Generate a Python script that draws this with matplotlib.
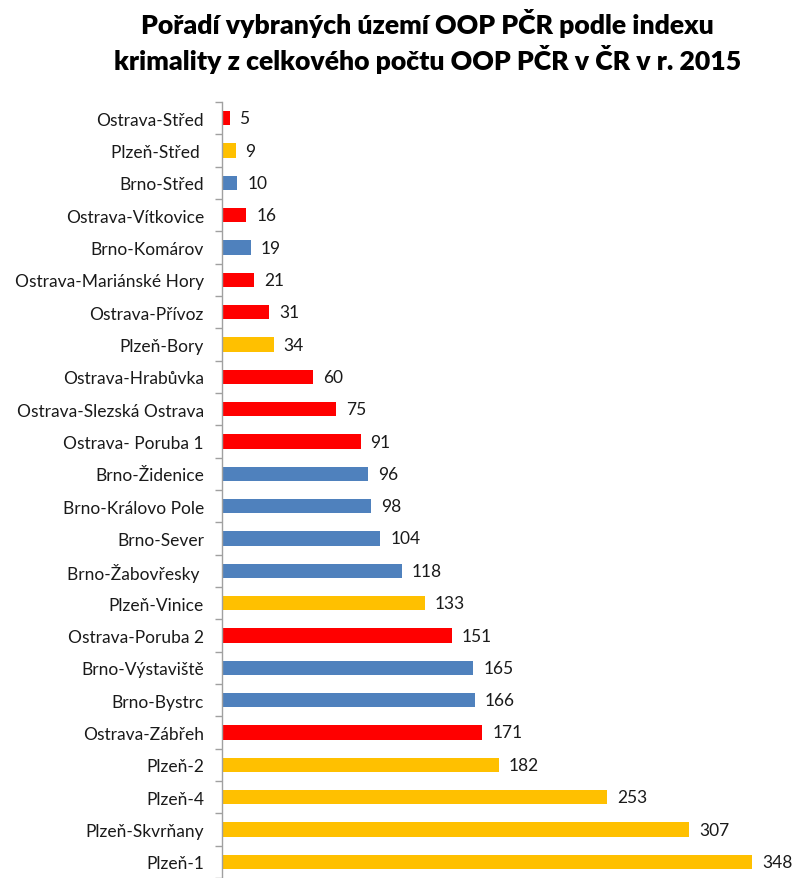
import matplotlib
matplotlib.use("Agg")
import matplotlib.pyplot as plt
import numpy as np

categories = ["Ostrava-Střed", "Plzeň-Střed ", "Brno-Střed", "Ostrava-Vítkovice", "Brno-Komárov",
              "Ostrava-Mariánské Hory", "Ostrava-Přívoz", "Plzeň-Bory", "Ostrava-Hrabůvka",
              "Ostrava-Slezská Ostrava", "Ostrava- Poruba 1", "Brno-Židenice", "Brno-Královo Pole",
              "Brno-Sever", "Brno-Žabovřesky ", "Plzeň-Vinice", "Ostrava-Poruba 2", "Brno-Výstaviště",
              "Brno-Bystrc", "Ostrava-Zábřeh", "Plzeň-2", "Plzeň-4", "Plzeň-Skvrňany", "Plzeň-1"]
values = [5, 9, 10, 16, 19, 21, 31, 34, 60, 75, 91, 96, 98, 104, 118, 133, 151, 165, 166, 171,
          182, 253, 307, 348]
title_lines = ["Pořadí vybraných území OOP PČR podle indexu",
               "krimality z celkového počtu OOP PČR v ČR v r. 2015"]

city_colors = {"Ostrava": "#FF0000", "Plzeň": "#FFC000", "Brno": "#4F81BD"}
colors = [city_colors[c.split("-")[0]] for c in categories]

plt.rcParams['font.family'] = ['Lato', 'DejaVu Sans']

fig = plt.figure(figsize=(7.99, 8.79), dpi=100)
ax = fig.add_axes([222/799, 0.0, (790-222)/799, (879-103)/879])

y = np.arange(len(categories))
ax.barh(y, values, height=0.45, color=colors)
for yi, v in zip(y, values):
    ax.text(v + 6.5, yi, str(v), va='center', ha='left', fontsize=12.5, color='#1a1a1a')

ax.set_ylim(len(categories) - 0.5, -0.5)
ax.set_xlim(0, 373)
ax.set_yticks(y)
ax.set_yticklabels(categories, fontsize=12.5, color='#1a1a1a')
ax.tick_params(axis='y', which='major', length=0, pad=13)
ax.set_yticks(np.arange(-0.5, len(categories), 1), minor=True)
ax.tick_params(axis='y', which='minor', length=5, color='#A0A0A0', width=1)
ax.set_xticks([])
for s in ['top', 'right', 'bottom']:
    ax.spines[s].set_visible(False)
ax.spines['left'].set_color('#A0A0A0')
ax.spines['left'].set_linewidth(1)

fig.text(0.535, 1 - 23/879, title_lines[0], ha='center', va='center', fontsize=19.2,
         fontweight='heavy', color='black')
fig.text(0.535, 1 - 59/879, title_lines[1], ha='center', va='center', fontsize=19.2,
         fontweight='heavy', color='black')

fig.savefig("out.png", dpi=100)
